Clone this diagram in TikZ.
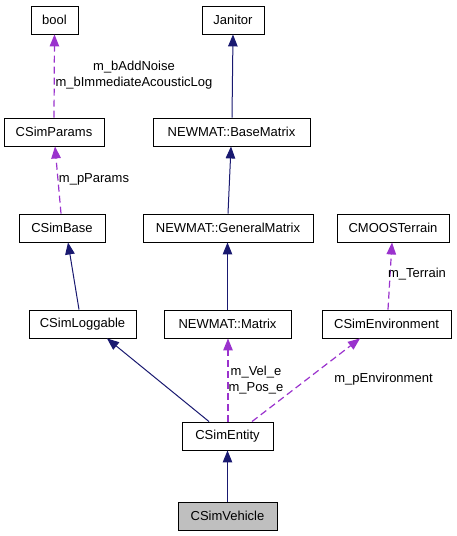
\documentclass[tikz,border=0pt]{standalone}
\usepackage{fontspec}
\setmainfont{Liberation Sans}
\usetikzlibrary{arrows.meta,calc}
\definecolor{inh}{HTML}{191970}
\definecolor{use}{HTML}{9A32CD}
\definecolor{hl}{HTML}{BFBFBF}
\newcommand{\fs}{\fontsize{13}{16}\selectfont}
\tikzset{
  box/.style={draw=black, line width=0.9pt, fill=white, minimum height=28pt, inner sep=0pt, font=\fs},
  lab/.style={inner sep=0pt, font=\fs, align=center},
  inherit/.style={draw=inh, line width=1pt, -{Triangle[length=12pt,width=9.5pt]}, color=inh},
  uses/.style={draw=use, line width=1.2pt, dash pattern=on 7pt off 4pt, -{Triangle[length=12pt,width=9.5pt]}, color=use},
}
\begin{document}
\begin{tikzpicture}[x=1pt,y=-1pt]
\useasboundingbox (0,0) rectangle (456,536);
\node[box, minimum width=47pt] (bool) at (54.5,20) {bool};
\node[box, minimum width=62pt] (janitor) at (233,20) {Janitor};
\node[box, minimum width=100pt] (params) at (54,132) {CSimParams};
\node[box, minimum width=157pt] (basem) at (231.5,132) {NEWMAT::BaseMatrix};
\node[box, minimum width=86pt] (base) at (62,228) {CSimBase};
\node[box, minimum width=170pt] (genm) at (228,228) {NEWMAT::GeneralMatrix};
\node[box, minimum width=112pt] (terrain) at (393,228) {CMOOSTerrain};
\node[box, minimum width=107pt] (loggable) at (82.5,324) {CSimLoggable};
\node[box, minimum width=127pt] (matrix) at (227.5,324) {NEWMAT::Matrix};
\node[box, minimum width=129pt] (env) at (386.5,324) {CSimEnvironment};
\node[box, minimum width=91pt] (entity) at (227.5,436) {CSimEntity};
\node[box, minimum width=99pt, fill=hl] (vehicle) at (227.5,516) {CSimVehicle};

% usage edges
\draw[uses] (params.north) -- (bool.south);
\draw[uses] ($(base.north)+(-1,0)$) -- ($(params.south)+(1,0)$);
\draw[uses] ($(env.north)+(1.5,0)$) -- ($(terrain.south)+(-1,0)$);
\draw[uses] ($(entity.north)+(0.5,0)$) -- ($(matrix.south)+(0.5,0)$);
\draw[uses] ($(entity.north)+(24.5,0)$) -- ($(env.south)+(-26.5,0)$);

% inheritance edges
\draw[inherit] ($(basem.north)+(0.5,0)$) -- (janitor.south);
\draw[inherit] (genm.north) -- ($(basem.south)+(-0.5,0)$);
\draw[inherit] ($(loggable.north)+(-3.5,0)$) -- ($(base.south)+(6,0)$);
\draw[inherit] (matrix.north) -- ($(genm.south)+(-0.5,0)$);
\draw[inherit] ($(entity.north)+(-18.5,0)$) -- ($(loggable.south)+(24.5,0)$);
\draw[inherit] (vehicle.north) -- (entity.south);

% labels
\node[lab] (l1) at (134,75.5) {m\_bAddNoise\\m\_bImmediateAcousticLog};
\node[lab] (l2) at (94,179.5) {m\_pParams};
\node[lab] (l3) at (417,274.5) {m\_Terrain};
\node[lab] (l4) at (256,380) {m\_Vel\_e\\m\_Pos\_e};
\node[lab] (l5) at (383.5,379.5) {m\_pEnvironment};
\end{tikzpicture}
\end{document}
